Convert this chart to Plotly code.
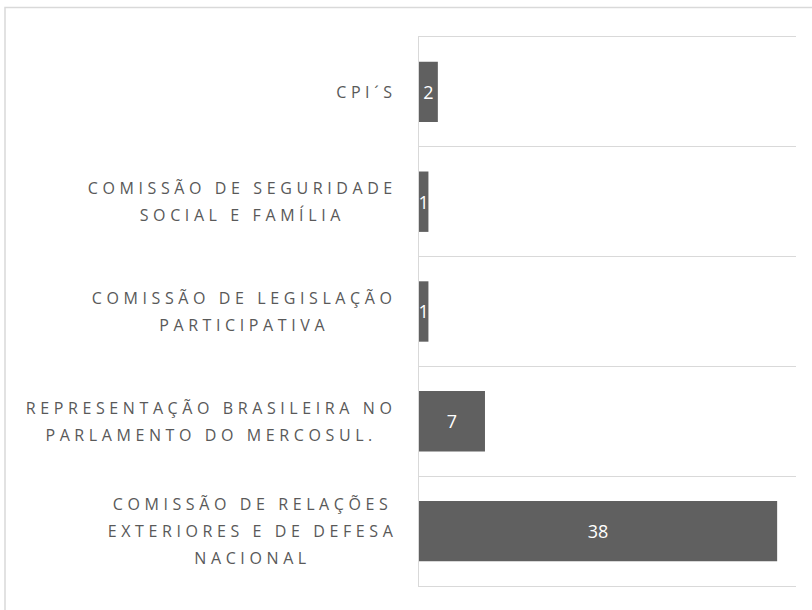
import plotly.graph_objects as go

# Data (bottom to top)
categories = [
    "COMISSÃO DE RELAÇÕES EXTERIORES E DE DEFESA NACIONAL",
    "REPRESENTAÇÃO BRASILEIRA NO PARLAMENTO DO MERCOSUL.",
    "COMISSÃO DE LEGISLAÇÃO PARTICIPATIVA",
    "COMISSÃO DE SEGURIDADE SOCIAL E FAMÍLIA",
    "CPI´S",
]
values = [38, 7, 1, 1, 2]
tick_labels = [
    "COMISSÃO DE RELAÇÕES<br>EXTERIORES E DE DEFESA<br>NACIONAL",
    "REPRESENTAÇÃO BRASILEIRA NO<br>PARLAMENTO DO MERCOSUL.",
    "COMISSÃO DE LEGISLAÇÃO<br>PARTICIPATIVA",
    "COMISSÃO DE SEGURIDADE<br>SOCIAL E FAMÍLIA",
    "CPI´S",
]

BAR_COLOR = "#606060"
TEXT_COLOR = "#595959"
GRID_COLOR = "#d9d9d9"
FONT = "Open Sans"
LABEL_SIZE = 16

fig = go.Figure()
fig.add_trace(go.Bar(
    y=categories,
    x=values,
    orientation="h",
    marker=dict(color=BAR_COLOR, line=dict(width=0)),
    width=0.55,
    text=[str(v) for v in values],
    textposition="inside",
    insidetextanchor="middle",
    constraintext="none",
    textfont=dict(color="white", size=18, family=FONT),
    hoverinfo="skip",
))

for cat, lab in zip(categories, tick_labels):
    fig.add_annotation(
        x=0, xref="paper", y=cat, yref="y",
        text=lab, showarrow=False,
        xanchor="right", yanchor="middle", align="center",
        xshift=-20,
        font=dict(family=FONT, size=LABEL_SIZE, color=TEXT_COLOR),
    )

W, H = 812, 610
ML, MR, MT, MB = 419, 16, 37, 24
pw, ph = W - ML - MR, H - MT - MB

def px_x(px):
    return (px - ML) / pw

def px_y(py):
    return (H - MB - py) / ph

fig.add_shape(
    type="rect", xref="paper", yref="paper",
    x0=px_x(5), x1=px_x(830), y0=px_y(630), y1=px_y(7.5),
    line=dict(color=GRID_COLOR, width=1.5), fillcolor="rgba(0,0,0,0)",
    layer="below",
)

fig.update_layout(
    width=W, height=H,
    margin=dict(l=ML, r=MR, t=MT, b=MB),
    paper_bgcolor="white", plot_bgcolor="white",
    showlegend=False,
    font=dict(family=FONT, color=TEXT_COLOR),
    xaxis=dict(range=[0, 40], showgrid=False, showticklabels=False,
               zeroline=False, showline=True, mirror=True,
               linecolor=GRID_COLOR, linewidth=1.3, ticks=""),
    yaxis=dict(type="category", categoryorder="array", categoryarray=categories,
               range=[-0.5, 4.5], showticklabels=False, ticks="",
               showgrid=True, gridcolor=GRID_COLOR, gridwidth=1.3,
               tickson="boundaries", showline=True, linecolor=GRID_COLOR,
               linewidth=1.3, zeroline=False),
)

js = """
document.body.style.margin = '0';
document.body.style.padding = '0';
var gd = document.getElementById('{plot_id}');
var LH = 27, FS = %d, LS = 4.6;
gd.querySelectorAll('text.annotation-text').forEach(function(t){
  var b0 = t.getBBox();
  var right0 = b0.x + b0.width;
  t.style.letterSpacing = LS + 'px';
  var lines = t.querySelectorAll('tspan.line');
  var N = lines.length;
  if (N > 1) {
    lines.forEach(function(l, i){
      l.setAttribute('dy', (i*LH - (N-1)*(LH - 1.3*FS)/2) + 'px');
    });
  }
  var b1 = t.getBBox();
  var dx = right0 - (b1.x + b1.width);
  var x = parseFloat(t.getAttribute('x')) + dx;
  t.setAttribute('x', x);
  lines.forEach(function(l){ l.setAttribute('x', x); });
});
""" % LABEL_SIZE

fig.write_html("out.html", post_script=js,
               config={"displayModeBar": False})
